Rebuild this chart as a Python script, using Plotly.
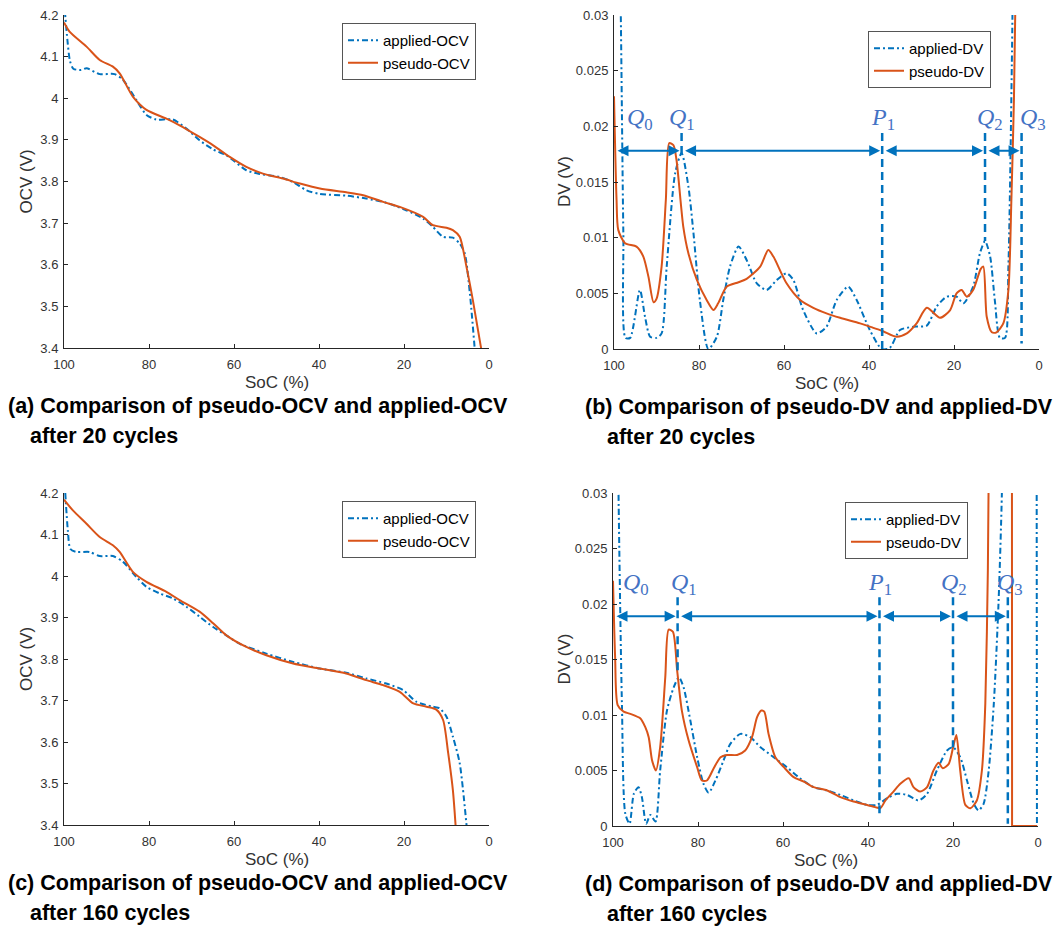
import plotly.graph_objects as go

# ---------------- data ----------------
# (a) OCV after 20 cycles
soc_a_app = [99.8, 99.2, 98.6, 97.8, 96.0, 94.7, 91.6, 88.1, 86.1, 83.0, 80.6, 78.3, 74.4, 71.2, 68.1,
             64.9, 61.8, 60.2, 57.1, 54.0, 49.3, 46.1, 43.0, 39.8, 33.6, 28.9, 24.2, 19.5, 15.5, 13.2,
             10.8, 8.5, 6.9, 5.7, 4.5, 3.3]
ocv_a_app = [4.21, 4.14, 4.09, 4.071, 4.068, 4.072, 4.058, 4.058, 4.044, 3.996, 3.960, 3.949, 3.949, 3.927, 3.899,
             3.877, 3.863, 3.851, 3.827, 3.818, 3.811, 3.799, 3.779, 3.770, 3.766, 3.759, 3.749, 3.731, 3.711, 3.691,
             3.667, 3.665, 3.651, 3.627, 3.531, 3.39]
soc_a_pse = [100, 98.7, 94.7, 91.6, 88.5, 86.9, 83.8, 80.6, 75.9, 72.8, 68.1, 64.9, 61.0, 57.1, 53.2,
             48.5, 44.5, 39.8, 33.6, 29.6, 24.9, 21.0, 15.5, 13.2, 10.0, 8.5, 6.9, 5.3, 3.8, 1.7]
ocv_a_pse = [4.182, 4.160, 4.124, 4.092, 4.076, 4.060, 4.004, 3.972, 3.951, 3.935, 3.907, 3.887, 3.859, 3.835, 3.819,
             3.807, 3.795, 3.783, 3.774, 3.767, 3.751, 3.739, 3.715, 3.695, 3.689, 3.683, 3.667, 3.595, 3.515, 3.39]

# (c) OCV after 160 cycles
soc_c_app = [99.7, 99.1, 98.5, 97.1, 94.0, 91.6, 88.5, 86.1, 83.0, 80.6, 77.5, 74.4, 71.2, 68.1, 64.9,
             61.8, 58.7, 52.4, 46.1, 39.8, 33.6, 28.9, 24.2, 20.2, 17.1, 13.2, 11.6, 10.0, 8.5, 6.9, 5.2]
ocv_c_app = [4.20, 4.11, 4.065, 4.058, 4.058, 4.048, 4.048, 4.034, 3.998, 3.974, 3.958, 3.946, 3.926, 3.902, 3.877,
             3.857, 3.837, 3.813, 3.793, 3.777, 3.767, 3.753, 3.741, 3.725, 3.697, 3.685, 3.681, 3.661, 3.613, 3.549, 3.39]
soc_c_pse = [100, 97.9, 94.7, 91.6, 88.5, 86.9, 83.8, 80.6, 75.9, 72.8, 68.1, 64.9, 61.8, 57.1, 52.4,
             46.1, 39.8, 33.6, 28.9, 24.9, 21.0, 17.8, 14.7, 12.4, 10.8, 9.6, 8.5, 7.8]
ocv_c_pse = [4.184, 4.158, 4.126, 4.094, 4.074, 4.058, 4.010, 3.986, 3.962, 3.942, 3.914, 3.886, 3.857, 3.829, 3.809,
             3.789, 3.777, 3.765, 3.749, 3.737, 3.721, 3.693, 3.685, 3.678, 3.653, 3.573, 3.484, 3.39]

# (b) DV after 20 cycles
soc_b_app = [99.2, 98.4, 97.8, 97.3, 96.2, 93.9, 92.7, 91.5, 90.0, 88.8, 87.6, 85.6, 84.1, 82.5, 81.3,
             79.8, 77.8, 75.8, 74.3, 72.7, 70.7, 68.8, 66.4, 64.1, 61.7, 59.4, 57.8, 55.5, 52.3, 50.0,
             47.6, 44.9, 42.9, 39.8, 37.0, 35.1, 32.7, 29.6, 26.4, 24.1, 21.7, 19.4, 17.8, 15.5, 13.9,
             12.7, 11.5, 10.4, 9.2, 8.0, 7.2, 6.4, 5.8]
dv_b_app = [0.050, 0.030, 0.0104, 0.0010, 0.0010, 0.0053, 0.0029, 0.0011, 0.0010, 0.0014, 0.0074, 0.0158, 0.0176, 0.0146, 0.0104,
            0.0044, 0.0000, 0.0011, 0.0044, 0.0074, 0.0092, 0.0080, 0.0059, 0.0053, 0.0062, 0.0068, 0.0062, 0.0035, 0.0014, 0.0020,
            0.0044, 0.0056, 0.0044, 0.0017, 0.0000, 0.0001, 0.0017, 0.0020, 0.0021, 0.0038, 0.0047, 0.0047, 0.0041, 0.0056, 0.0086,
            0.0097, 0.0083, 0.0044, 0.0010, 0.0010, 0.0074, 0.0254, 0.045]
soc_b_pse = [100, 99.4, 99.0, 97.4, 94.7, 93.1, 91.9, 90.7, 90.0, 88.8, 87.8, 87.0, 86.0, 85.3, 83.7,
             82.5, 80.5, 78.2, 76.6, 75.5, 73.5, 70.7, 68.8, 65.6, 63.7, 62.5, 59.4, 56.2, 53.1, 50.0,
             46.8, 42.1, 39.0, 36.7, 33.5, 31.1, 28.8, 26.4, 23.3, 20.9, 19.4, 18.2, 17.0, 15.5, 13.7,
             13.1, 12.3, 11.1, 10.0, 8.4, 7.2, 6.5, 5.9, 5.2]
dv_b_pse = [0.0227, 0.0134, 0.0107, 0.0095, 0.0092, 0.0083, 0.0065, 0.0042, 0.0045, 0.0074, 0.0134, 0.0185, 0.0183, 0.0170, 0.0110,
            0.0086, 0.0062, 0.0044, 0.0035, 0.0041, 0.0056, 0.0060, 0.0063, 0.0074, 0.0089, 0.0083, 0.0059, 0.0044, 0.0037, 0.0032,
            0.0028, 0.0023, 0.0019, 0.0016, 0.0011, 0.0014, 0.0023, 0.0037, 0.0028, 0.0035, 0.0050, 0.0053, 0.0047, 0.0053, 0.0072,
            0.0074, 0.0029, 0.0015, 0.0015, 0.0023, 0.0053, 0.0134, 0.0224, 0.040]

# (d) DV after 160 cycles (None separates the part that runs off the top of the axes)
soc_d_app = [99.2, 98.7, 97.9, 97.1, 96.1, 95.1, 94.0, 93.2, 92.2, 91.2, 90.0, 88.9, 87.3, 85.7, 84.5,
             83.4, 81.8, 80.2, 78.7, 77.5, 75.9, 74.0, 72.4, 70.0, 67.7, 65.3, 62.2, 59.1, 56.0, 52.8,
             49.6, 46.5, 43.4, 40.2, 37.9, 35.5, 33.2, 30.8, 28.1, 26.1, 23.8, 21.4, 20.0, 18.3, 16.7,
             15.1, 14.0, 12.8, 11.6, 10.4, 9.3, 8.5, 7.8, None, 0.35, 0.25]
dv_d_app = [0.050, 0.030, 0.0110, 0.0011, 0.0002, 0.0029, 0.0035, 0.0026, 0.0002, 0.0010, 0.0004, 0.0050, 0.0104, 0.0125, 0.0134,
            0.0125, 0.0095, 0.0062, 0.0038, 0.0030, 0.0041, 0.0059, 0.0074, 0.0083, 0.0080, 0.0071, 0.0062, 0.0053, 0.0043, 0.0035,
            0.0032, 0.0028, 0.0023, 0.0019, 0.0019, 0.0025, 0.0029, 0.0028, 0.0023, 0.0029, 0.0050, 0.0068, 0.0071, 0.0062, 0.0041,
            0.0020, 0.0014, 0.0020, 0.0050, 0.0110, 0.0200, 0.030, 0.050, None, 0.050, 0.0]
soc_d_pse = [100, 99.5, 98.9, 97.5, 95.9, 93.6, 92.4, 91.6, 90.8, 89.9, 88.9, 87.7, 86.9, 85.9, 84.9,
             83.8, 82.2, 80.2, 79.1, 77.9, 76.3, 74.7, 73.2, 70.8, 68.9, 67.3, 66.1, 65.1, 64.4, 63.4,
             61.8, 59.8, 57.5, 55.1, 52.8, 49.6, 46.5, 43.4, 40.2, 38.3, 37.1, 35.9, 34.0, 32.4, 30.4,
             29.3, 27.7, 26.1, 24.6, 23.4, 22.4, 21.0, 19.8, 19.2, 18.3, 17.1, 15.9, 14.4, 13.2, 12.4,
             11.8, 11.3, None, 6.15, 6.1, 0.2]
dv_d_pse = [0.0221, 0.0152, 0.0109, 0.0103, 0.0101, 0.0097, 0.0089, 0.0080, 0.0059, 0.0050, 0.0071, 0.0134, 0.0177, 0.0175, 0.0140,
            0.0104, 0.0077, 0.0053, 0.0041, 0.0041, 0.0052, 0.0062, 0.0064, 0.0064, 0.0068, 0.0080, 0.0098, 0.0104, 0.0103, 0.0083,
            0.0062, 0.0053, 0.0044, 0.0040, 0.0035, 0.0032, 0.0026, 0.0022, 0.0019, 0.0017, 0.0016, 0.0023, 0.0031, 0.0038, 0.0043,
            0.0035, 0.0031, 0.0035, 0.0050, 0.0057, 0.0052, 0.0056, 0.0074, 0.0082, 0.0050, 0.0019, 0.0016, 0.0023, 0.0050, 0.0110,
            0.0230, 0.045, None, 0.050, 0.0, 0.0]

# feature points Q0, Q1, P1, Q2, Q3 on the DV curves
feature_names = ["Q0", "Q1", "P1", "Q2", "Q3"]
feature_soc_b = [100, 84.1, 36.9, 12.7, 4.1]
feature_dv_b = [None, 0.0176, 0.0, 0.0097, 0.0005]     # curve value where each marker line stops
feature_soc_d = [100, 84.8, 37.3, 20.0, 7.1]
feature_dv_d = [None, 0.0140, 0.0010, 0.0071, 0.0002]
label_soc_b = [93.8, 84.1, 36.6, 11.5, 1.3]
label_soc_d = [94.7, 83.4, 37.1, 19.8, 6.5]

# tick labels
soc_ticks = [100, 80, 60, 40, 20, 0]
ocv_ticks = [3.4, 3.5, 3.6, 3.7, 3.8, 3.9, 4.0, 4.1, 4.2]
ocv_ticktext = ["3.4", "3.5", "3.6", "3.7", "3.8", "3.9", "4", "4.1", "4.2"]
dv_ticks = [0, 0.005, 0.01, 0.015, 0.02, 0.025, 0.03]
dv_ticktext = ["0", "0.005", "0.01", "0.015", "0.02", "0.025", "0.03"]

captions = [
    ("(a) Comparison of pseudo-OCV and applied-OCV", "after 20 cycles"),
    ("(b) Comparison of pseudo-DV and applied-DV", "after 20 cycles"),
    ("(c) Comparison of pseudo-OCV and applied-OCV", "after 160 cycles"),
    ("(d) Comparison of pseudo-DV and applied-DV", "after 160 cycles"),
]

# ---------------- styling ----------------
W, H = 1056, 926
BLUE = "#0072BD"
ORANGE = "#D95319"
LABEL_BLUE = "#4472C4"
AXIS = "#262626"
TICK_TXT = "#333333"
SANS = "Liberation Sans, Arial, sans-serif"
SERIF = "Liberation Serif, DejaVu Serif, serif"

# plot boxes in pixels: left, right, top, bottom
boxes = {
    1: (64, 489, 15, 348),
    2: (614, 1039, 15, 349),
    3: (64, 489, 493, 825),
    4: (613, 1038, 493, 826),
}


def px_x(p):
    return p / W


def px_y(p):
    return (H - p) / H


def segments(xs, ys):
    """Split a series at None entries into separate runs."""
    runs, cx, cy = [], [], []
    for x, y in zip(xs, ys):
        if x is None:
            runs.append((cx, cy))
            cx, cy = [], []
        else:
            cx.append(x)
            cy.append(y)
    runs.append((cx, cy))
    return runs


fig = go.Figure()

style_app = dict(color=BLUE, width=2, dash="6px,3px,2px,3px")
style_pse = dict(color=ORANGE, width=2)

panels = [
    (1, soc_a_app, ocv_a_app, soc_a_pse, ocv_a_pse, "applied-OCV", "pseudo-OCV"),
    (2, soc_b_app, dv_b_app, soc_b_pse, dv_b_pse, "applied-DV", "pseudo-DV"),
    (3, soc_c_app, ocv_c_app, soc_c_pse, ocv_c_pse, "applied-OCV", "pseudo-OCV"),
    (4, soc_d_app, dv_d_app, soc_d_pse, dv_d_pse, "applied-DV", "pseudo-DV"),
]

for k, xa, ya, xp, yp, name_a, name_p in panels:
    ax = "" if k == 1 else str(k)
    leg = "legend" if k == 1 else f"legend{k}"
    for xs, ys, name, style in [(xa, ya, name_a, style_app), (xp, yp, name_p, style_pse)]:
        for i, (sx, sy) in enumerate(segments(xs, ys)):
            long_run = len(sx) > 4
            fig.add_trace(go.Scatter(
                x=sx, y=sy, mode="lines", name=name, legendgroup=f"{k}-{name}",
                showlegend=(i == 0),
                line=dict(**style, shape="spline" if long_run else "linear", smoothing=0.7),
                xaxis="x" + ax, yaxis="y" + ax, legend=leg))

# feature markers, arrows and labels on the DV panels
annotations = []
for k, fsoc, fdv, lsoc, top, level, label_y in [
    (2, feature_soc_b, feature_dv_b, label_soc_b, 0.0194, 0.0178, 0.0207),
    (4, feature_soc_d, feature_dv_d, label_soc_d, 0.0206, 0.0189, 0.0218),
]:
    ax = str(k)
    for s, bottom in zip(fsoc[1:], fdv[1:]):
        fig.add_trace(go.Scatter(x=[s, s], y=[top, bottom], mode="lines", showlegend=False,
                                 line=dict(color=BLUE, width=2.5, dash="8px,5px"),
                                 xaxis="x" + ax, yaxis="y" + ax))
    for s0, s1 in zip(fsoc[:-1], fsoc[1:]):
        annotations.append(dict(
            x=s1, y=level, ax=s0, ay=level, xref="x" + ax, yref="y" + ax,
            axref="x" + ax, ayref="y" + ax, text="", showarrow=True,
            arrowside="end+start", arrowhead=2, startarrowhead=2,
            arrowsize=1.1, startarrowsize=1.1, arrowwidth=2, arrowcolor=BLUE,
            standoff=2, startstandoff=2))
    for name, s in zip(feature_names, lsoc):
        annotations.append(dict(
            x=s, y=label_y, xref="x" + ax, yref="y" + ax, showarrow=False,
            text=f"<i>{name[0]}</i><sub>{name[1]}</sub>",
            font=dict(family=SERIF, size=24, color=LABEL_BLUE),
            xanchor="center", yanchor="middle"))

# axes
layout_axes = {}
for k, (l, r, t, b) in boxes.items():
    ax = "" if k == 1 else str(k)
    is_ocv = k in (1, 3)
    layout_axes["xaxis" + ax] = dict(
        domain=[px_x(l), px_x(r)], anchor="y" + ax, range=[100, 0],
        tickvals=soc_ticks, ticktext=[str(v) for v in soc_ticks],
        ticks="inside", ticklen=4, tickcolor=AXIS, showline=True, linecolor=AXIS, linewidth=1,
        showgrid=False, zeroline=False, tickfont=dict(family=SANS, size=13, color=TICK_TXT),
        ticklabelstandoff=4, automargin=False, fixedrange=True)
    layout_axes["yaxis" + ax] = dict(
        domain=[px_y(b), px_y(t)], anchor="x" + ax,
        range=[3.4, 4.2] if is_ocv else [0, 0.03],
        tickvals=ocv_ticks if is_ocv else dv_ticks,
        ticktext=ocv_ticktext if is_ocv else dv_ticktext,
        ticks="inside", ticklen=4, tickcolor=AXIS, showline=True, linecolor=AXIS, linewidth=1,
        showgrid=False, zeroline=False, tickfont=dict(family=SANS, size=13, color=TICK_TXT),
        ticklabelstandoff=2, automargin=False, fixedrange=True)
    # axis titles
    annotations.append(dict(
        x=px_x((l + r) / 2), y=px_y(b + 34), xref="paper", yref="paper", showarrow=False,
        text="SoC (%)", font=dict(family=SANS, size=17, color=TICK_TXT),
        xanchor="center", yanchor="middle"))
    annotations.append(dict(
        x=px_x(26 if is_ocv else 564), y=px_y((t + b) / 2), xref="paper", yref="paper",
        showarrow=False, textangle=-90, text="OCV (V)" if is_ocv else "DV (V)",
        font=dict(family=SANS, size=17, color=TICK_TXT),
        xanchor="center", yanchor="middle"))
    # captions
    line1, line2 = captions[k - 1]
    cx = 6 if k in (1, 3) else 583
    annotations.append(dict(
        x=px_x(cx), y=px_y(b + 58), xref="paper", yref="paper", showarrow=False,
        text=f"<b>{line1}</b>", font=dict(family=SANS, size=21.5, color="#000000"),
        xanchor="left", yanchor="middle"))
    annotations.append(dict(
        x=px_x(cx + 22), y=px_y(b + 88), xref="paper", yref="paper", showarrow=False,
        text=f"<b>{line2}</b>", font=dict(family=SANS, size=21.5, color="#000000"),
        xanchor="left", yanchor="middle"))

legend_style = dict(xanchor="right", yanchor="top", bgcolor="white", bordercolor="#555555",
                    borderwidth=1, font=dict(family=SANS, size=15, color="#000000"),
                    tracegroupgap=0, itemwidth=30)
legends = {
    "legend": dict(x=px_x(476), y=px_y(23), **legend_style),
    "legend2": dict(x=px_x(991), y=px_y(31), **legend_style),
    "legend3": dict(x=px_x(476), y=px_y(501), **legend_style),
    "legend4": dict(x=px_x(968), y=px_y(502), **legend_style),
}

fig.update_layout(
    width=W, height=H, margin=dict(l=0, r=0, t=0, b=0, autoexpand=False),
    paper_bgcolor="white", plot_bgcolor="white",
    annotations=annotations, **layout_axes, **legends)

fig.write_html("out.html")
